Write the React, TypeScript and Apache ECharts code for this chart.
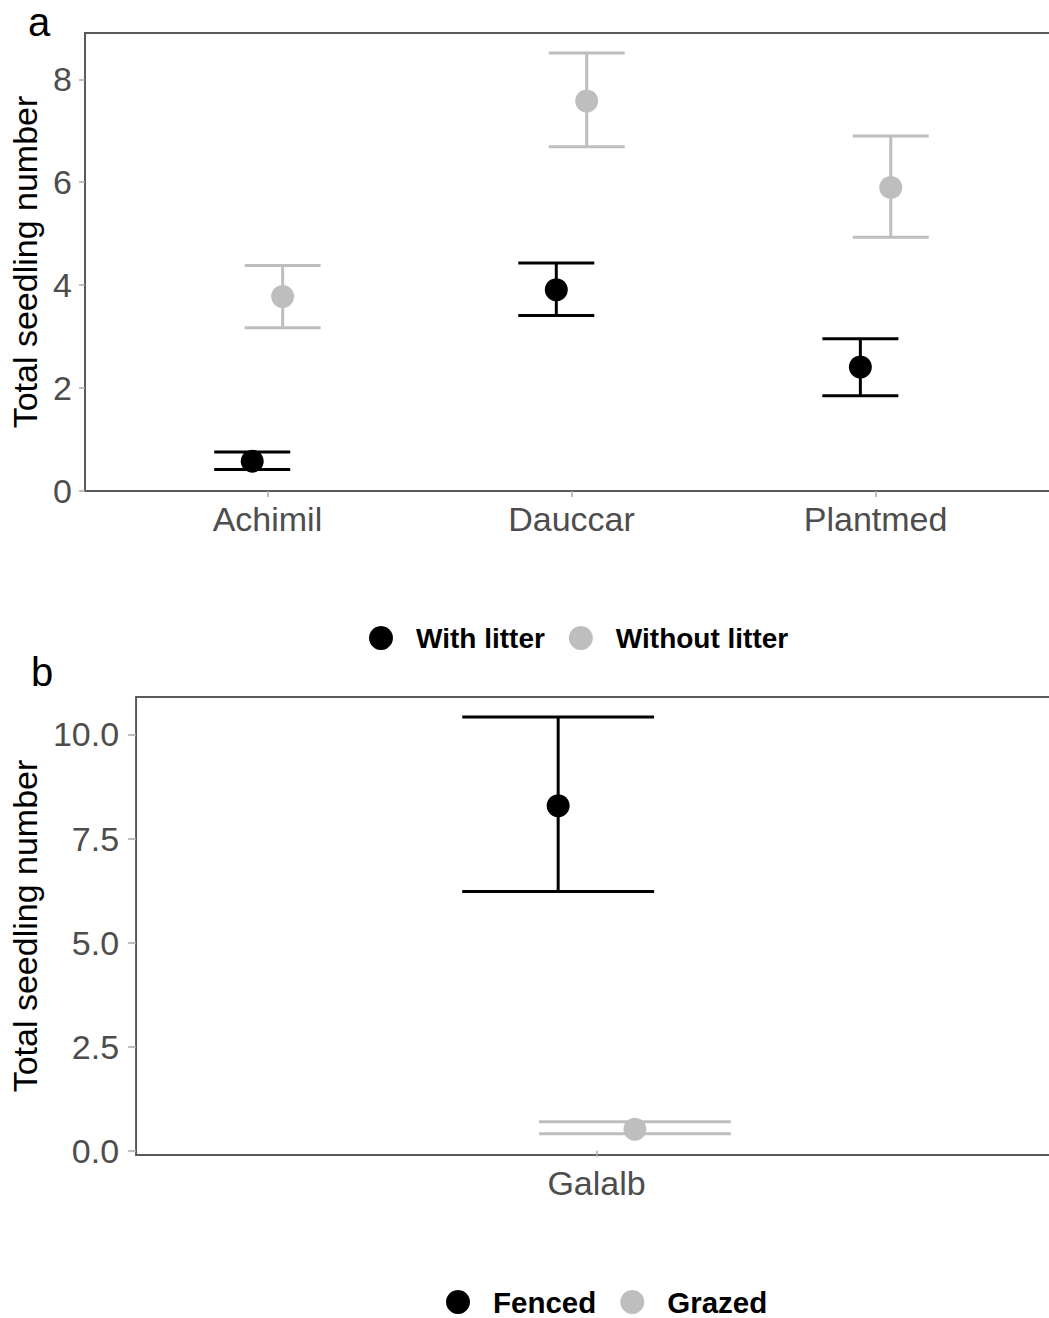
import React, { useEffect, useRef } from "react";
import * as echarts from "echarts";

// Panel a data
const categoriesA = ["Achimil", "Dauccar", "Plantmed"];
const withLitterMean = [0.58, 3.91, 2.41];
const withLitterLow = [0.42, 3.41, 1.85];
const withLitterHigh = [0.76, 4.43, 2.96];
const withoutLitterMean = [3.78, 7.58, 5.9];
const withoutLitterLow = [3.17, 6.69, 4.93];
const withoutLitterHigh = [4.38, 8.51, 6.9];
const yTicksA = [0, 2, 4, 6, 8];

// Panel b data
const categoriesB = ["Galalb"];
const fencedMean = [8.29];
const fencedLow = [6.23];
const fencedHigh = [10.42];
const grazedMean = [0.52];
const grazedLow = [0.41];
const grazedHigh = [0.7];
const yTicksB = [0, 2.5, 5, 7.5, 10];

const BLACK = "#000000";
const GREY = "#bebebe";
const FONT = "Liberation Sans, Arial, sans-serif";
const DODGE = 0.05;
const CAP = 0.125;

function errorRender(color: string) {
  return (params: any, api: any) => {
    const x = api.value(0);
    const lo = api.value(1);
    const hi = api.value(2);
    const top = api.coord([x, hi]);
    const bot = api.coord([x, lo]);
    const tl = api.coord([x - CAP, hi]);
    const tr = api.coord([x + CAP, hi]);
    const bl = api.coord([x - CAP, lo]);
    const br = api.coord([x + CAP, lo]);
    const style = { stroke: color, lineWidth: 3 };
    return {
      type: "group",
      children: [
        { type: "line", shape: { x1: top[0], y1: top[1], x2: bot[0], y2: bot[1] }, style },
        { type: "line", shape: { x1: tl[0], y1: tl[1], x2: tr[0], y2: tr[1] }, style },
        { type: "line", shape: { x1: bl[0], y1: bl[1], x2: br[0], y2: br[1] }, style },
      ],
    };
  };
}

export default function App() {
  const ref = useRef<HTMLDivElement>(null);
  useEffect(() => {
    if (!ref.current) return;
    const chart = echarts.init(ref.current, null, { renderer: "svg" });

    const xAxisBase = (cats: string[], idx: number) => ({
      type: "value",
      gridIndex: idx,
      min: 0.4,
      max: cats.length + 0.6,
      axisLine: { show: false },
      splitLine: { show: false },
      axisTick: {
        show: true,
        length: 6,
        customValues: cats.map((_, i) => i + 1),
        lineStyle: { color: "#aaaaaa", width: 1.5 },
      },
      axisLabel: {
        customValues: cats.map((_, i) => i + 1),
        formatter: (v: number) => cats[Math.round(v) - 1] ?? "",
        color: "#4d4d4d",
        fontSize: 34,
        fontFamily: FONT,
        margin: 11,
      },
    });

    const yAxisBase = (
      idx: number,
      min: number,
      max: number,
      ticks: number[],
      decimals: number,
      gap: number,
      tickLen: number,
      labelMargin: number
    ) => ({
      type: "value",
      gridIndex: idx,
      min,
      max,
      name: "Total seedling number",
      nameLocation: "middle",
      nameGap: gap,
      nameTextStyle: { fontSize: 34, color: "#000", fontFamily: FONT },
      axisLine: { show: false },
      splitLine: { show: false },
      axisTick: {
        show: true,
        length: tickLen,
        customValues: ticks,
        lineStyle: { color: "#aaaaaa", width: 1.5 },
      },
      axisLabel: {
        customValues: ticks,
        formatter: (v: number) => v.toFixed(decimals),
        color: "#4d4d4d",
        fontSize: 34,
        fontFamily: FONT,
        margin: labelMargin,
      },
    });

    const scatter = (name: string, color: string, idx: number, xs: number[], ys: number[]) => ({
      type: "scatter",
      name,
      xAxisIndex: idx,
      yAxisIndex: idx,
      symbol: "circle",
      symbolSize: 23,
      itemStyle: { color, opacity: 1 },
      z: 5,
      data: xs.map((x, i) => [x, ys[i]]),
    });

    const bars = (name: string, color: string, idx: number, xs: number[], lo: number[], hi: number[]) => ({
      type: "custom",
      name,
      xAxisIndex: idx,
      yAxisIndex: idx,
      z: 2,
      renderItem: errorRender(color),
      encode: { x: 0, y: [1, 2] },
      data: xs.map((x, i) => [x, lo[i], hi[i]]),
    });

    const xA = categoriesA.map((_, i) => i + 1);
    const xB = categoriesB.map((_, i) => i + 1);

    const legendBase = (fontSize: number) => ({
      icon: "circle",
      itemWidth: 24,
      itemHeight: 24,
      itemGap: 24,
      padding: 0,
      textStyle: {
        fontSize,
        lineHeight: 30,
        fontWeight: "bold",
        color: "#000",
        fontFamily: FONT,
        padding: [0, 0, 0, 18],
      },
    });

    chart.setOption({
      animation: false,
      backgroundColor: "#ffffff",
      grid: [
        { left: 85, top: 33, height: 458, right: 2, show: true, borderColor: "#5a5a5a", borderWidth: 2, backgroundColor: "transparent" },
        { left: 135, top: 697, height: 458, right: 3, show: true, borderColor: "#5a5a5a", borderWidth: 2, backgroundColor: "transparent" },
      ],
      xAxis: [xAxisBase(categoriesA, 0), xAxisBase(categoriesB, 1)],
      yAxis: [
        yAxisBase(0, 0, 8.9, yTicksA, 0, 42, 6, 13),
        yAxisBase(1, -0.1, 10.9, yTicksB, 1, 92, 8, 17),
      ],
      legend: [
        { ...legendBase(28), data: ["With litter", "Without litter"], left: 369, top: 623 },
        { ...legendBase(29.5), data: ["Fenced", "Grazed"], left: 446, top: 1287 },
      ],
      graphic: [
        { type: "text", left: 28, top: 2, style: { text: "a", fontSize: 40, lineHeight: 40, fill: "#000", fontFamily: FONT } },
        { type: "text", left: 31, top: 652, style: { text: "b", fontSize: 40, lineHeight: 40, fill: "#000", fontFamily: FONT } },
      ],
      series: [
        bars("With litter bars", BLACK, 0, xA.map((x) => x - DODGE), withLitterLow, withLitterHigh),
        bars("Without litter bars", GREY, 0, xA.map((x) => x + DODGE), withoutLitterLow, withoutLitterHigh),
        scatter("With litter", BLACK, 0, xA.map((x) => x - DODGE), withLitterMean),
        scatter("Without litter", GREY, 0, xA.map((x) => x + DODGE), withoutLitterMean),
        bars("Fenced bars", BLACK, 1, xB.map((x) => x - DODGE), fencedLow, fencedHigh),
        bars("Grazed bars", GREY, 1, xB.map((x) => x + DODGE), grazedLow, grazedHigh),
        scatter("Fenced", BLACK, 1, xB.map((x) => x - DODGE), fencedMean),
        scatter("Grazed", GREY, 1, xB.map((x) => x + DODGE), grazedMean),
      ],
    });
    return () => chart.dispose();
  }, []);

  return (
    <div
      style={{ position: "absolute", left: 0, top: 0, width: 1049, height: 1318, overflow: "hidden", background: "#fff" }}
    >
      <div ref={ref} style={{ width: 1060, height: 1318 }} />
    </div>
  );
}
